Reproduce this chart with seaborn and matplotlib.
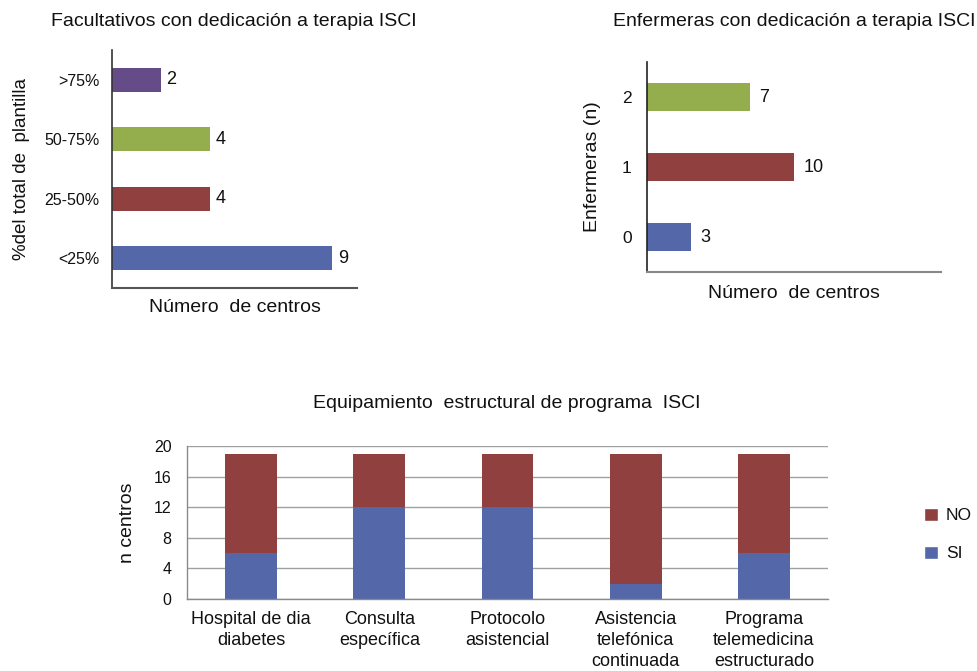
import matplotlib
matplotlib.use("Agg")
import matplotlib.pyplot as plt
import seaborn as sns
import pandas as pd
from matplotlib.patches import Patch

# ---------------- data ----------------
fac_cats = [">75%", "50-75%", "25-50%", "<25%"]
fac_vals = [2, 4, 4, 9]

enf_cats = ["2", "1", "0"]
enf_vals = [7, 10, 3]

equip_cats = ["Hospital de dia\ndiabetes", "Consulta\nespecífica", "Protocolo\nasistencial",
              "Asistencia\ntelefónica\ncontinuada", "Programa\ntelemedicina\nestructurado"]
equip_si = [6, 12, 12, 2, 6]
equip_no = [13, 7, 7, 17, 13]

PURPLE = "#664B89"
GREEN = "#94AE4E"
RED = "#914040"
BLUE = "#5468A9"

sns.set_style("white")
plt.rcParams['font.family'] = ['Liberation Sans', 'DejaVu Sans']
plt.rcParams['text.color'] = '#111111'
plt.rcParams['axes.labelcolor'] = '#111111'
plt.rcParams['xtick.color'] = '#111111'
plt.rcParams['ytick.color'] = '#111111'

W, H = 978, 671
fig = plt.figure(figsize=(W / 100, H / 100), dpi=100)

def rect(x0, y0, x1, y1):
    return [x0 / W, 1 - y1 / H, (x1 - x0) / W, (y1 - y0) / H]

# ---------------- top-left ----------------
ax1 = fig.add_axes(rect(112, 50, 357, 288))
df1 = pd.DataFrame({"cat": fac_cats, "val": fac_vals})
sns.barplot(data=df1, x="val", y="cat", hue="cat", order=fac_cats, hue_order=fac_cats,
            palette=[PURPLE, GREEN, RED, BLUE], legend=False, width=0.4, saturation=1,
            linewidth=0, orient="h", ax=ax1)
ax1.set_xlim(0, 10)
ax1.set_ylim(3.5, -0.5)
for c in ax1.containers:
    ax1.bar_label(c, padding=4, fontsize=13)
ax1.set_xticks([])
ax1.tick_params(axis="y", length=0, pad=9, labelsize=11.5)
for s in ["top", "right"]:
    ax1.spines[s].set_visible(False)
ax1.spines["left"].set_color("#333333")
ax1.spines["left"].set_linewidth(1.2)
ax1.spines["bottom"].set_color("#555555")
ax1.spines["bottom"].set_linewidth(1.5)
ax1.set_xlabel("Número  de centros", fontsize=14)
ax1.xaxis.set_label_coords(0.5, -0.084)
ax1.xaxis.label.set_verticalalignment("center")
ax1.set_ylabel("%del total de  plantilla", fontsize=13.5)
ax1.yaxis.set_label_coords(-0.37, 0.5)
ax1.yaxis.label.set_verticalalignment("center")
fig.text(234 / W, 1 - 22 / H, "Facultativos con dedicación a terapia ISCI",
         ha="center", va="center", fontsize=14)

# ---------------- top-right ----------------
ax2 = fig.add_axes(rect(647, 62, 941, 272))
df2 = pd.DataFrame({"cat": enf_cats, "val": enf_vals})
sns.barplot(data=df2, x="val", y="cat", hue="cat", order=enf_cats, hue_order=enf_cats,
            palette=[GREEN, RED, BLUE], legend=False, width=0.41, saturation=1,
            linewidth=0, orient="h", ax=ax2)
ax2.set_xlim(0, 20)
ax2.set_ylim(2.5, -0.5)
for c in ax2.containers:
    ax2.bar_label(c, padding=7, fontsize=13)
ax2.set_xticks([])
ax2.tick_params(axis="y", length=0, pad=11, labelsize=12.5)
for s in ["top", "right"]:
    ax2.spines[s].set_visible(False)
ax2.spines["left"].set_color("#222222")
ax2.spines["left"].set_linewidth(1.2)
ax2.spines["bottom"].set_color("#888888")
ax2.spines["bottom"].set_linewidth(1.5)
ax2.set_xlabel("Número  de centros", fontsize=14)
ax2.xaxis.set_label_coords(0.5, -0.10)
ax2.xaxis.label.set_verticalalignment("center")
ax2.set_ylabel("Enfermeras (n)", fontsize=14)
ax2.yaxis.set_label_coords(-0.187, 0.5)
ax2.yaxis.label.set_verticalalignment("center")
fig.text(794 / W, 1 - 22 / H, "Enfermeras con dedicación a terapia ISCI",
         ha="center", va="center", fontsize=14)

# ---------------- bottom ----------------
ax3 = fig.add_axes(rect(187, 446, 828, 599))
df3 = pd.DataFrame({"cat": equip_cats, "SI": equip_si, "NO": equip_no})
df3["total"] = df3["SI"] + df3["NO"]
ax3.set_axisbelow(True)
sns.barplot(data=df3, x="cat", y="total", color=RED, width=0.405, saturation=1,
            linewidth=0, ax=ax3)
sns.barplot(data=df3, x="cat", y="SI", color=BLUE, width=0.405, saturation=1,
            linewidth=0, ax=ax3)
ax3.set_ylim(0, 20)
ax3.set_yticks([0, 4, 8, 12, 16, 20])
ax3.set_xlim(-0.5, len(equip_cats) - 0.5)
ax3.set_xlabel("")
ax3.set_ylabel("n centros", fontsize=14)
ax3.yaxis.set_label_coords(-0.0936, 0.5)
ax3.yaxis.label.set_verticalalignment("center")
ax3.grid(axis="y", color="#a0a0a0", linewidth=1)
ax3.grid(axis="x", visible=False)
ax3.tick_params(axis="y", length=4, width=1, color="#8a8a8a", labelcolor="#111111",
                pad=7, labelsize=11.5, direction="out")
ax3.set_xticks(range(len(equip_cats)))
ax3.set_xticklabels(equip_cats, fontsize=13, linespacing=1.3)
ax3.tick_params(axis="x", which="major", length=0, pad=9)
ax3.set_xticks([i - 0.5 for i in range(len(equip_cats) + 1)], minor=True)
ax3.tick_params(axis="x", which="minor", length=4, width=1, color="#8a8a8a", direction="out")
for s in ["top", "right"]:
    ax3.spines[s].set_visible(False)
for s in ["left", "bottom"]:
    ax3.spines[s].set_color("#8a8a8a")
    ax3.spines[s].set_linewidth(1)
fig.text(507 / W, 1 - 403 / H, "Equipamiento  estructural de programa  ISCI",
         ha="center", va="center", fontsize=14)

handles = [Patch(facecolor=RED, label="NO"), Patch(facecolor=BLUE, label="SI")]
fig.legend(handles=handles, loc="center left", bbox_to_anchor=(924 / W, 1 - 534.5 / H),
           frameon=False, fontsize=12.5, handlelength=0.8, handleheight=0.8,
           handletextpad=0.45, labelspacing=1.3, borderpad=0, borderaxespad=0)

fig.savefig("out.png", dpi=100)
